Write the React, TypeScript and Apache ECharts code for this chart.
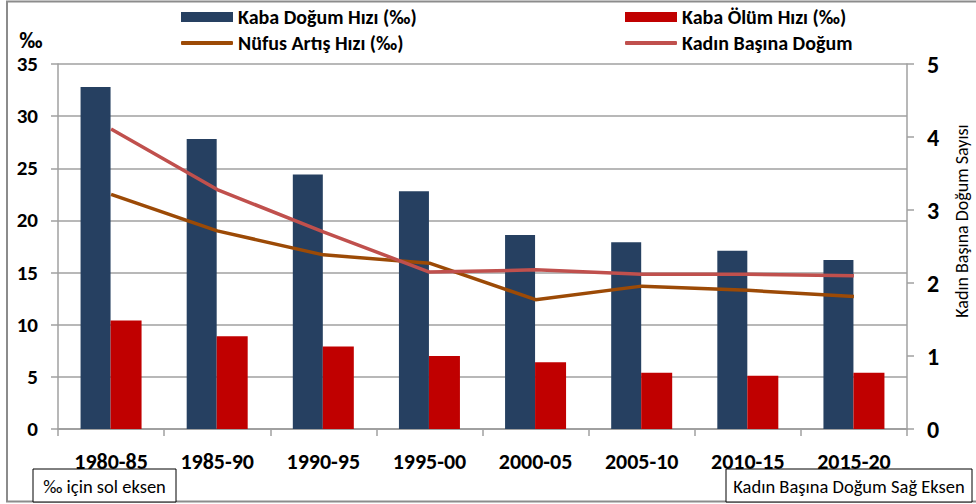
import React, { useEffect, useRef } from "react";
import * as echarts from "echarts";

const categories = ["1980-85", "1985-90", "1990-95", "1995-00", "2000-05", "2005-10", "2010-15", "2015-20"];
const kabaDogum = [32.8, 27.8, 24.4, 22.8, 18.6, 17.9, 17.1, 16.2];
const kabaOlum = [10.4, 8.9, 7.9, 7.0, 6.4, 5.4, 5.1, 5.4];
const nufusArtis = [22.5, 19.0, 16.7, 15.9, 12.4, 13.7, 13.3, 12.7];
const kadinBasina = [4.11, 3.28, 2.7, 2.15, 2.18, 2.12, 2.12, 2.1];
const leftTicks = { min: 0, max: 35, interval: 5 };
const rightTicks = { min: 0, max: 5, interval: 1 };

const FONT = "Carlito, 'Open Sans', 'Liberation Sans', sans-serif";
const GRAY = "#A0A0A0";
const C_DOGUM = "#264061";
const C_OLUM = "#C00000";
const C_ARTIS = "#9C4A06";
const C_KADIN = "#C0504D";

export default function App() {
  const ref = useRef<HTMLDivElement>(null);
  useEffect(() => {
    if (!ref.current) return;
    const chart = echarts.init(ref.current, undefined, { renderer: "svg" });
    const legendText = { fontFamily: FONT, fontWeight: "bold" as const, fontSize: 20, color: "#000" };
    const mkLegend = (name: string, left: number, top: number, isLine: boolean) => ({
      data: [name],
      left,
      top,
      icon: isLine ? "roundRect" : "rect",
      itemWidth: 52,
      itemHeight: isLine ? 4 : 10,
      itemGap: 5,
      padding: 0,
      textStyle: legendText,
      selectedMode: false,
    });
    chart.setOption({
      animation: false,
      backgroundColor: "#fff",
      legend: [
        mkLegend("Kaba Doğum Hızı (‰)", 181, 7, false),
        mkLegend("Kaba Ölüm Hızı (‰)", 625, 7, false),
        mkLegend("Nüfus Artış Hızı (‰)", 181, 33, true),
        mkLegend("Kadın Başına Doğum", 625, 33, true),
      ],
      grid: { left: 58, right: 69, top: 64, bottom: 75, containLabel: false },
      xAxis: {
        type: "category",
        data: categories,
        axisLine: { lineStyle: { color: GRAY, width: 2 } },
        axisTick: { show: true, length: 7, lineStyle: { color: GRAY, width: 1.5 } },
        axisLabel: { fontFamily: FONT, fontWeight: "bold", fontSize: 22, color: "#000", margin: 21 },
      },
      yAxis: [
        {
          type: "value",
          ...leftTicks,
          axisLine: { show: true, lineStyle: { color: GRAY, width: 1.5 } },
          axisTick: { show: true, length: 7, lineStyle: { color: GRAY, width: 1.5 } },
          splitLine: { show: true, lineStyle: { color: GRAY, width: 1.5 } },
          axisLabel: { fontFamily: FONT, fontWeight: "bold", fontSize: 21, color: "#000", margin: 20 },
        },
        {
          type: "value",
          position: "right",
          ...rightTicks,
          axisLine: { show: true, lineStyle: { color: GRAY, width: 1.5 } },
          axisTick: { show: true, length: 7, lineStyle: { color: GRAY, width: 1.5 } },
          splitLine: { show: false },
          axisLabel: { fontFamily: FONT, fontWeight: "bold", fontSize: 24, color: "#000", margin: 20 },
        },
      ],
      series: [
        {
          name: "Kaba Doğum Hızı (‰)",
          type: "bar",
          data: kabaDogum,
          barWidth: 30,
          barGap: "0%",
          itemStyle: { color: C_DOGUM },
          yAxisIndex: 0,
        },
        {
          name: "Kaba Ölüm Hızı (‰)",
          type: "bar",
          data: kabaOlum,
          barWidth: 31,
          barGap: "0%",
          itemStyle: { color: C_OLUM },
          yAxisIndex: 0,
        },
        {
          name: "Nüfus Artış Hızı (‰)",
          type: "line",
          data: nufusArtis,
          yAxisIndex: 0,
          symbol: "none",
          lineStyle: { color: C_ARTIS, width: 3.5 },
          itemStyle: { color: C_ARTIS },
        },
        {
          name: "Kadın Başına Doğum",
          type: "line",
          data: kadinBasina,
          yAxisIndex: 1,
          symbol: "none",
          lineStyle: { color: C_KADIN, width: 3.5 },
          itemStyle: { color: C_KADIN },
        },
      ],
      graphic: [
        {
          type: "rect",
          shape: { x: 7, y: 1.5, width: 980, height: 500 },
          style: { fill: "none", stroke: "#8C8C8C", lineWidth: 2 },
          silent: true,
        },
        {
          type: "text",
          x: 31,
          y: 40,
          style: { text: "‰", font: `bold 22px ${FONT}`, fill: "#000", align: "center", verticalAlign: "middle" },
        },
        {
          type: "text",
          x: 962,
          y: 221,
          rotation: Math.PI / 2,
          style: { text: "Kadın Başına Doğum Sayısı", font: `18px ${FONT}`, fill: "#000", align: "center", verticalAlign: "middle" },
        },
        {
          type: "rect",
          shape: { x: 33, y: 469, width: 143, height: 33 },
          style: { fill: "#fff", stroke: "#000", lineWidth: 1 },
        },
        {
          type: "text",
          x: 104.5,
          y: 486,
          style: { text: "‰ için sol eksen", font: `18.5px ${FONT}`, fill: "#000", align: "center", verticalAlign: "middle" },
        },
        {
          type: "rect",
          shape: { x: 726, y: 469, width: 246, height: 33 },
          style: { fill: "#fff", stroke: "#000", lineWidth: 1 },
        },
        {
          type: "text",
          x: 849,
          y: 486,
          style: { text: "Kadın Başına Doğum Sağ Eksen", font: `18.5px ${FONT}`, fill: "#000", align: "center", verticalAlign: "middle" },
        },
      ],
    });
    return () => chart.dispose();
  }, []);
  return <div ref={ref} style={{ width: 976, height: 504, position: "absolute", left: 0, top: 0 }} />;
}
